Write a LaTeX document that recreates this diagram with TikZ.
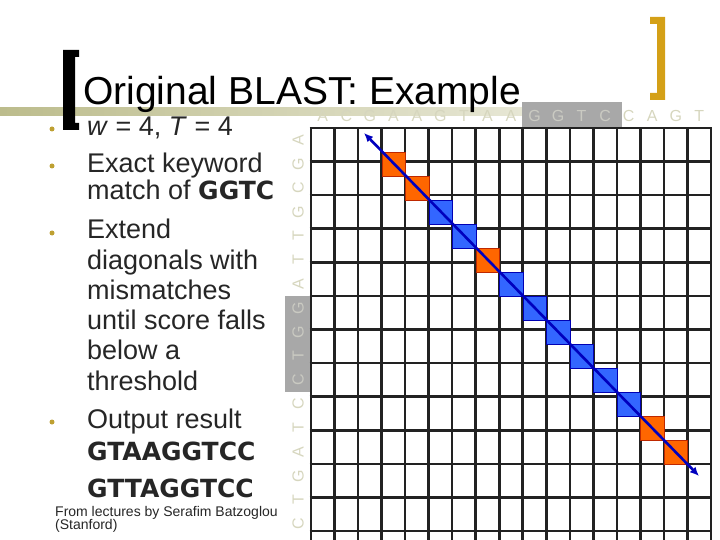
\documentclass[tikz,border=0pt]{standalone}
\usepackage{fontspec}
\setmainfont{Liberation Sans}
\newfontfamily\seqfont{DejaVu Sans}
\usepackage{xcolor}
\usepackage{tikz}
\usetikzlibrary{positioning,arrows.meta,calc}

\definecolor{bandL}{RGB}{188,188,140}
\definecolor{bandR}{RGB}{234,234,218}
\definecolor{seqtxt}{RGB}{214,214,190}
\definecolor{keybox}{RGB}{168,168,168}
\definecolor{keytxt}{RGB}{202,202,194}
\definecolor{mmfill}{RGB}{255,102,0}
\definecolor{mmline}{RGB}{190,40,0}
\definecolor{hitfill}{RGB}{51,102,255}
\definecolor{hitline}{RGB}{0,0,180}
\definecolor{diagblue}{RGB}{0,0,190}
\definecolor{bracketgold}{RGB}{212,160,23}
\definecolor{dotgold}{RGB}{190,160,50}
\definecolor{bodytxt}{RGB}{38,38,38}
\definecolor{gridln}{RGB}{34,34,34}

\newcommand{\keyseq}[1]{{\seqfont\bfseries\fontsize{25}{25}\selectfont #1}}

\tikzset{
	seqletter/.style={inner sep=0pt, font=\fontsize{16}{16}\selectfont},
	cellbox/.style={anchor=north west, inner sep=0pt, minimum width=23.5pt, minimum height=24pt, line width=1pt},
	mmcell/.style={cellbox, fill=mmfill, draw=mmline},
	hitcell/.style={cellbox, fill=hitfill, draw=hitline},
	bodyline/.style={anchor=base west, inner sep=0pt, text=bodytxt, font=\fontsize{27}{27}\selectfont},
	bullet/.style={circle, fill=dotgold, inner sep=0pt, minimum size=5pt},
}

\begin{document}
\begin{tikzpicture}[x=1pt,y=-1pt]
	\useasboundingbox (0,0) rectangle (720,540);
	
	% title band and keyword boxes
	\shade[left color=bandL, right color=bandR] (0,108) rectangle (560,116);
	\fill[keybox] (522,102) rectangle (622,127);
	\fill[keybox] (285,296) rectangle (310,392);
	
	% brackets
	\fill (63,50) -- (79,50) -- (79,57) -- (75,57) -- (75,123) -- (79,123) -- (79,130) -- (63,130) -- cycle;
	\fill[bracketgold] (650,17) -- (665,17) -- (665,100) -- (650,100) -- (650,93) -- (657,93) -- (657,24) -- (650,24) -- cycle;
	
	\node[anchor=base west, inner sep=0pt, font=\fontsize{39}{39}\selectfont] (title) at (83,105) {Original BLAST: Example};
	
	% sequences
	\foreach \ch/\col [count=\j from 0] in {A/seqtxt,C/seqtxt,G/seqtxt,A/seqtxt,A/seqtxt,G/seqtxt,T/seqtxt,A/seqtxt,A/seqtxt,G/keytxt,G/keytxt,T/keytxt,C/keytxt,C/seqtxt,A/seqtxt,G/seqtxt,T/seqtxt}
		\node[seqletter, text=\col] (top\j) at ({311+23.53*(\j+0.5)},116) {\ch};
	\foreach \ch/\col [count=\j from 0] in {A/seqtxt,G/seqtxt,C/seqtxt,G/seqtxt,T/seqtxt,T/seqtxt,A/seqtxt,G/keytxt,G/keytxt,T/keytxt,C/keytxt,C/seqtxt,T/seqtxt,A/seqtxt,G/seqtxt,T/seqtxt,C/seqtxt}
		\node[seqletter, text=\col, rotate=90] (left\j) at (298,{140+24*\j}) {\ch};
	
	% grid
	\foreach \j in {0,...,17}
		\draw[gridln, line width=2.6pt] ({311+23.53*\j},128) -- ({311+23.53*\j},540);
	\foreach \i in {0,...,12}
		\draw[gridln, line width=2.6pt] (309.7,{128+33.58*\i}) -- (712.3,{128+33.58*\i});
	
	% diagonal hits
	\foreach \c [count=\k from 0] in {mmcell,mmcell,hitcell,hitcell,mmcell,hitcell,hitcell,hitcell,hitcell,hitcell,hitcell,mmcell,mmcell}
		\node[\c] (sq\k) at ({311+23.53*(3+\k)},{152+24*\k}) {};
	
	\coordinate (dstart) at (364,133);
	\coordinate (dend) at (699,476);
	\draw[diagblue, line width=2.6pt, {Latex[length=9pt,width=8pt]}-{Latex[length=9pt,width=8pt]}] (dstart) -- (dend);
	
	% bullet text
	\foreach \y [count=\i] in {129,166,233,422}
		\node[bullet] (dot\i) at (52,\y) {};
	\foreach \txt/\y [count=\i] in {{\textit{w} = 4, \textit{T} = 4}/136,
		{Exact keyword}/173, {match of \keyseq{GGTC}}/200,
		{Extend}/239, {diagonals with}/269, {mismatches}/299,
		{until score falls}/329, {below a}/359, {threshold}/390,
		{Output result}/428, {\keyseq{GTAAGGTCC}}/460, {\keyseq{GTTAGGTCC}}/497}
		\node[bodyline] (line\i) at (87,\y) {\txt};
	
	\node[anchor=base west, inner sep=0pt, text=bodytxt, font=\fontsize{14}{14}\selectfont] (credit) at (55,516) {From lectures by Serafim Batzoglou};
	\node[anchor=base west, inner sep=0pt, text=bodytxt, font=\fontsize{14}{14}\selectfont, below=3pt of credit.base west, anchor=north west] (place) {(Stanford)};
	
\end{tikzpicture}
\end{document}
